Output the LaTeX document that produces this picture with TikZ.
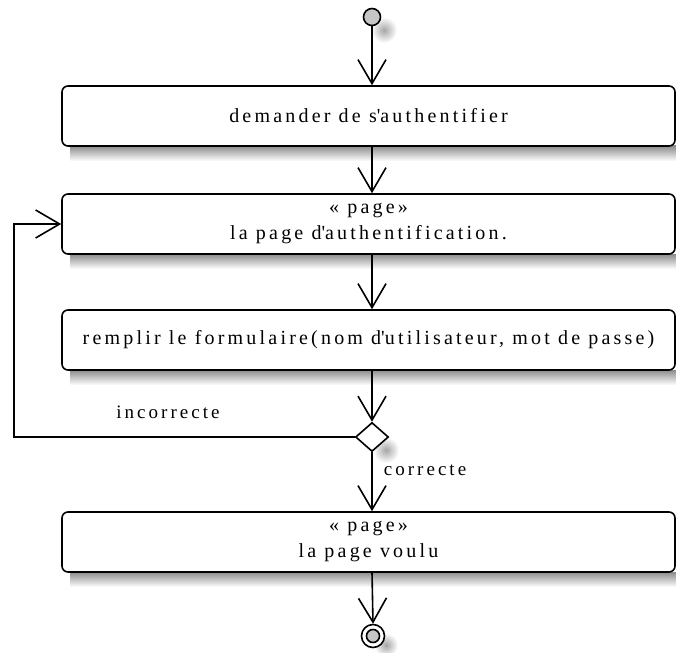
\documentclass[tikz,border=0pt]{standalone}
\usepackage{fontspec}
\setmainfont{Liberation Serif}[LetterSpace=16]
\usetikzlibrary{arrows.meta,shapes.geometric,calc}
\begin{document}
\begin{tikzpicture}[x=1pt,y=-1pt,
  line width=1.6pt,
  actbox/.style={draw, rounded corners=6pt, fill=white, minimum width=613pt,
    minimum height=60pt, inner sep=0pt, font=\fontsize{20}{26}\selectfont, align=center},
  arr/.style={-{Straight Barb[length=24pt,width=28pt]}},
  lbl/.style={font=\fontsize{19}{20}\selectfont, inner sep=0pt},
  boxshadow/.style={draw=none, top color=black!45, bottom color=white},
  blob/.style={draw=none, inner color=black!35, outer color=white}
]
\useasboundingbox (0,0) rectangle (676,652);

% soft shadows under the action boxes and the small symbols
\foreach \yb in {146,254,370,572}
  \shade[boxshadow] (70,\yb) rectangle (676,\yb+15);
\shade[blob] (384,30) circle (13pt);
\shade[blob] (386,450) circle (13pt);
\shade[blob] (386,645) circle (12pt);

% initial node
\node[circle, draw, fill=gray!45, minimum size=17pt, inner sep=0pt] (s) at (372,17) {};

% actions
\node[actbox] (b1) at (368.5,116) {demander de s\textquotesingle authentifier};
\node[actbox] (b2) at (368.5,224) {«~page»\\la page d\textquotesingle authentification.};
\node[actbox] (b3) at (368.5,340) {remplir le formulaire(nom d\textquotesingle utilisateur, mot de passe)};
\node[actbox] (b4) at (368.5,542) {«~page»\\la page voulu};

% decision
\node[diamond, draw, fill=white, aspect=1.14, minimum width=33pt, minimum height=29pt,
  inner sep=0pt] (d) at (372,437) {};

% final node
\node[circle, draw, fill=white, minimum size=23pt, inner sep=0pt] (e) at (373,636) {};
\node[circle, draw, fill=gray!45, minimum size=13pt, inner sep=0pt] (ei) at (e) {};

% guard labels
\node[lbl] (inc) at (168,412) {incorrecte};
\node[lbl, anchor=west] (cor) at (383,470) {correcte};

% control flow
\coordinate (lp) at (14,0);
\draw[arr] (s) -- (b1.north -| s);
\draw[arr] (b1.south -| s) -- (b2.north -| s);
\draw[arr] (b2.south -| s) -- (b3.north -| s);
\draw[arr] (b3.south -| s) -- (d.north);
\draw[arr] (d.south) -- (b4.north -| d);
\draw[arr] (b4.south -| d) -- (e.north);
\draw[arr] (d.west) -- (d.west -| lp) -- (b2.west -| lp) -- (b2.west);
\end{tikzpicture}
\end{document}
